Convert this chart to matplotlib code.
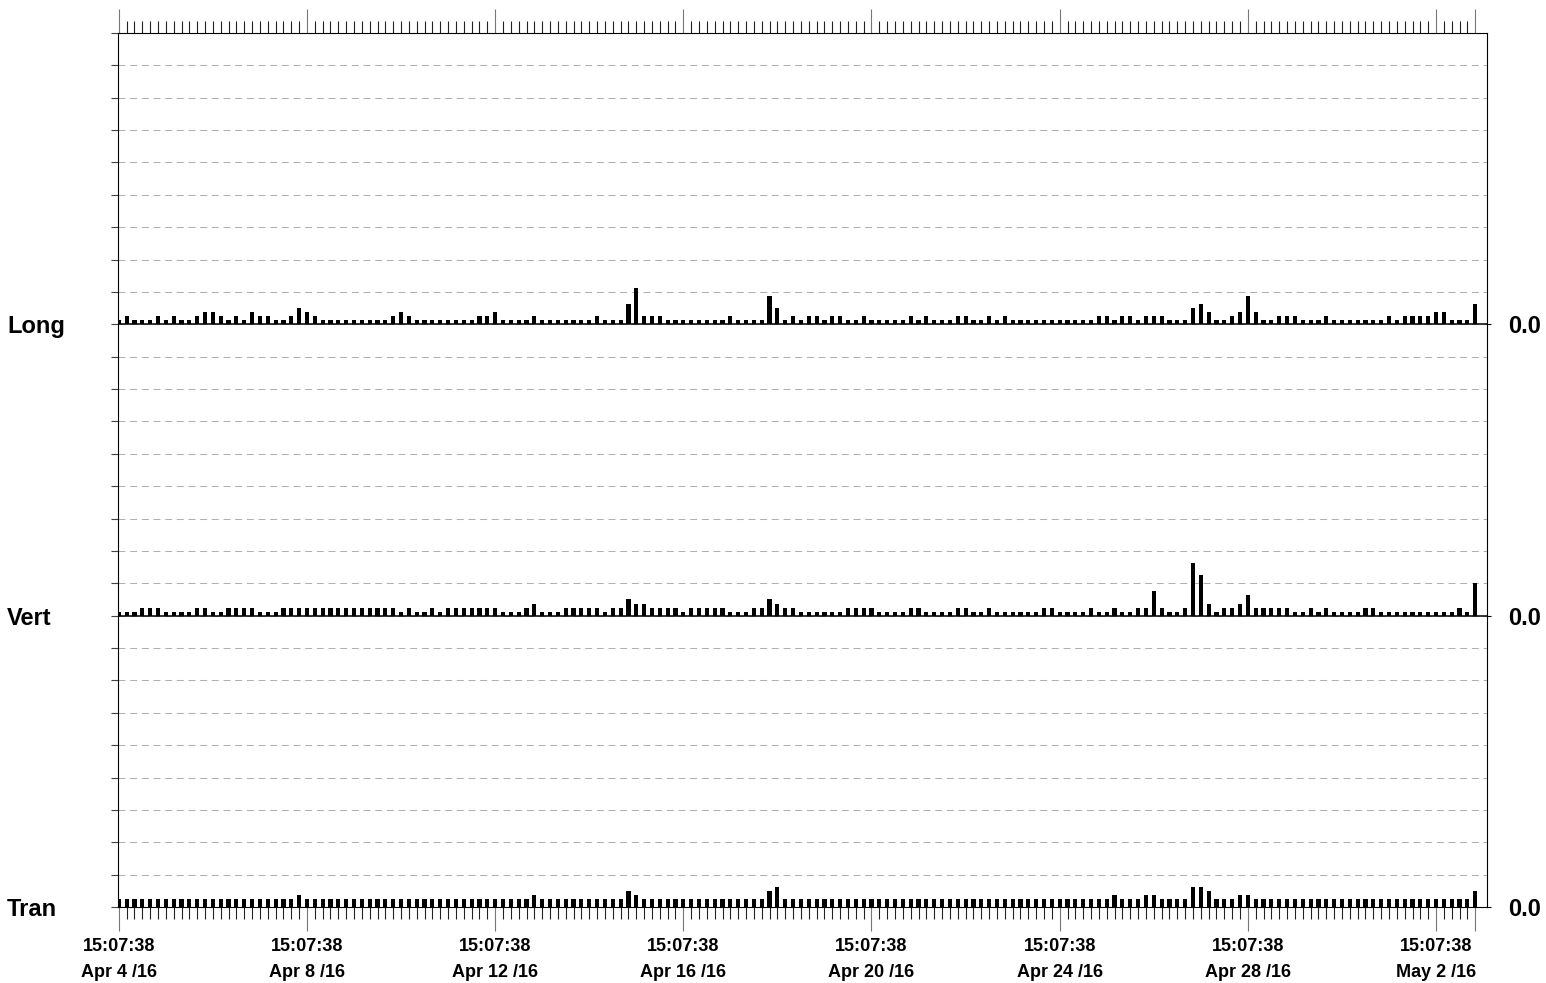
import matplotlib.pyplot as plt
import matplotlib.dates as mdates
import matplotlib.ticker as ticker
from datetime import datetime, timedelta

plt.rcParams['font.family'] = ['Liberation Sans', 'DejaVu Sans']

# one bar every 4 hours, starting Apr 4 /16 15:07:38 (rows of 24 = 4 days)
t0 = datetime(2016, 4, 4, 15, 7, 38)
step = timedelta(hours=4)

long_vals = [1,2,1,1,1,2,1,2,1,1,2,3,3,2,1,2,1,3,2,2,1,1,2,4,
             3,2,1,1,1,1,1,1,1,1,1,2,3,2,1,1,1,1,1,1,1,1,2,2,
             3,1,1,1,1,2,1,1,1,1,1,1,1,2,1,1,1,5,9,2,2,2,1,1,
             1,1,1,1,1,1,2,1,1,1,1,7,4,1,2,1,2,2,1,2,2,1,1,2,
             1,1,1,1,1,2,1,2,1,1,1,2,2,1,1,2,1,2,1,1,1,1,1,1,
             1,1,1,1,1,2,2,1,2,2,1,2,2,2,1,1,1,4,5,3,1,1,2,3,
             7,3,1,1,2,2,2,1,1,1,2,1,1,1,1,1,1,1,2,1,2,2,2,2,
             3,3,1,1,1,5]
vert_vals = [1,1,1,2,2,2,1,1,1,1,2,2,1,1,2,2,2,2,1,1,1,2,2,2,
             2,2,2,2,2,2,2,2,2,2,2,2,1,2,1,1,2,1,2,2,2,2,2,2,
             2,1,1,1,2,3,1,1,1,2,2,2,2,2,1,2,2,4,3,3,2,2,2,2,
             1,2,2,2,2,2,1,1,1,2,2,4,3,2,2,1,1,1,1,1,1,2,2,2,
             2,1,1,1,1,2,2,1,1,1,1,2,2,1,1,2,1,1,1,1,1,1,2,2,
             1,1,1,1,2,1,1,2,1,1,2,2,6,2,1,1,2,13,10,3,1,2,2,3,
             5,2,2,2,2,2,1,1,2,1,2,1,1,1,1,2,2,1,1,1,1,1,1,1,
             1,1,1,2,1,8]
tran_vals = [2,2,2,2,2,2,2,2,2,2,2,2,2,2,2,2,2,2,2,2,2,2,2,3,
             2,2,2,2,2,2,2,2,2,2,2,2,2,2,2,2,2,2,2,2,2,2,2,2,
             2,2,2,2,2,3,2,2,2,2,2,2,2,2,2,2,2,4,3,2,2,2,2,2,
             2,2,2,2,2,2,2,2,2,2,2,4,5,2,2,2,2,2,2,2,2,2,2,2,
             2,2,2,2,2,2,2,2,2,2,2,2,2,2,2,2,2,2,2,2,2,2,2,2,
             2,2,2,2,2,2,2,3,2,2,2,3,3,2,2,2,2,5,5,4,2,2,2,3,
             3,2,2,2,2,2,2,2,2,2,2,2,2,2,2,2,2,2,2,2,2,2,2,2,
             2,2,2,2,2,4]

channels = ['Long', 'Vert', 'Tran']
series = [long_vals, vert_vals, tran_vals]

GRID = 8      # units between dashed lines
ROWS = 9      # dashed steps per channel
band = GRID * ROWS

times = [t0 + k * step for k in range(len(long_vals))]
x = mdates.date2num(times)
dx = x[1] - x[0]

fig = plt.figure(figsize=(15.46, 9.83), dpi=100)
ax = fig.add_axes([118 / 1546, 1 - 907 / 983, (1487 - 118) / 1546, (907 - 33) / 983])

for k, (name, vals) in enumerate(zip(channels, series)):
    base = (len(channels) - 1 - k) * band
    ax.bar(x, vals, width=dx * 0.53, bottom=base, color='black', linewidth=0, zorder=3)

ax.set_xlim(x[0] - dx * 0.1, x[-1] + dx * 1.5)
ax.set_ylim(0, band * len(channels))

# y: dashed grid, solid channel separators
ax.set_yticks(range(0, band * len(channels) + 1, GRID))
ylabels = []
for v in range(0, band * len(channels) + 1, GRID):
    if v % band == 0 and v < band * len(channels):
        ylabels.append(channels[len(channels) - 1 - v // band])
    else:
        ylabels.append('')
ax.set_yticklabels(ylabels, fontsize=17, fontweight='bold', ha='left')
ax.tick_params(axis='y', length=5, width=0.8, color='#444444', pad=75)
ax.yaxis.grid(True, color='#b0b0b0', linestyle=(0, (6.7, 4.5)), linewidth=0.75)
for k in range(1, len(channels)):
    ax.axhline(k * band, color='black', linewidth=1.1, zorder=4)

ax2 = ax.twinx()
ax2.set_ylim(ax.get_ylim())
ax2.set_yticks([k * band for k in range(len(channels))])
ax2.set_yticklabels(['0.0'] * len(channels), fontsize=17, fontweight='bold')
ax2.tick_params(axis='y', length=3, width=0.8, pad=12)

# x: major every 4 days + last sample, minor at every sample
major = list(x[::24]) + [x[-1]]
xlabels = [f"{t:%H:%M:%S}\n{t:%b} {t.day} /{t:%y}" for t in times[::24]] + ['']
ax.xaxis.set_major_locator(ticker.FixedLocator(major))
ax.xaxis.set_minor_locator(ticker.FixedLocator(x))
ax.set_xticklabels(xlabels, fontsize=13, fontweight='bold', linespacing=1.75)
ax.tick_params(axis='x', which='major', top=True, bottom=True, length=17, width=0.8,
               color='#777777', pad=5)
ax.tick_params(axis='x', which='minor', top=True, bottom=True, length=8.5, width=0.8,
               color='#222222')
ax.grid(False, axis='x')

for s in ax.spines.values():
    s.set_linewidth(0.8)
    s.set_color('black')
for s in ax2.spines.values():
    s.set_visible(False)

fig.savefig('out.png', dpi=100)
